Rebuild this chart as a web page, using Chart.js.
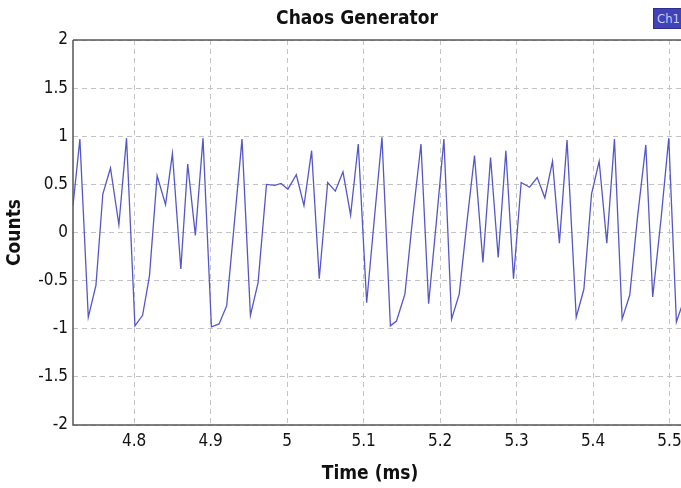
<!DOCTYPE html>
<html>
<head>
<meta charset="utf-8">
<script src="https://cdn.jsdelivr.net/npm/chart.js@4/dist/chart.umd.min.js"></script>
<style>
  html, body { margin: 0; padding: 0; background: #ffffff; overflow: hidden; }
  #wrap { position: relative; width: 681px; height: 488px; overflow: hidden; }
  #legend { position: absolute; left: 653px; top: 8px; width: 40px; height: 21px;
    background: #4141b8; border: 1px solid #2d2d8a; box-sizing: border-box;
    color: #c9cdf2; font: 13px "DejaVu Sans Condensed", sans-serif; line-height: 19px; padding-left: 3px; }
</style>
</head>
<body>
<div id="wrap">
  <canvas id="c" width="681" height="488"></canvas>
  <div id="legend">Ch1</div>
</div>
<script>
// ---- data ----
const chartTitle = "Chaos Generator";
const xAxisTitle = "Time (ms)";
const yAxisTitle = "Counts";
const seriesName = "Ch1";

const times = [
  4.720, 4.729, 4.740, 4.750, 4.759, 4.769, 4.780, 4.790, 4.801, 4.811,
  4.820, 4.830, 4.841, 4.850, 4.861, 4.870, 4.880, 4.890, 4.901, 4.911,
  4.921, 4.931, 4.941, 4.952, 4.962, 4.973, 4.984, 4.992, 5.001, 5.012,
  5.022, 5.032, 5.042, 5.053, 5.063, 5.073, 5.083, 5.093, 5.104, 5.114,
  5.124, 5.135, 5.143, 5.154, 5.164, 5.175, 5.185, 5.195, 5.205, 5.215,
  5.225, 5.235, 5.245, 5.256, 5.266, 5.276, 5.286, 5.296, 5.306, 5.317,
  5.327, 5.337, 5.347, 5.356, 5.366, 5.378, 5.388, 5.398, 5.408, 5.418,
  5.428, 5.438, 5.448, 5.458, 5.469, 5.478, 5.489, 5.499, 5.509, 5.518
];
const counts = [
  0.28, 0.97, -0.88, -0.55, 0.40, 0.67, 0.08, 0.98, -0.97, -0.86,
  -0.45, 0.59, 0.29, 0.82, -0.38, 0.71, -0.03, 0.98, -0.98, -0.95,
  -0.76, 0.10, 0.97, -0.86, -0.52, 0.50, 0.49, 0.51, 0.45, 0.60,
  0.28, 0.85, -0.48, 0.52, 0.43, 0.63, 0.18, 0.92, -0.73, 0.14,
  0.99, -0.97, -0.92, -0.64, 0.14, 0.92, -0.74, 0.10, 0.97, -0.90,
  -0.64, 0.10, 0.80, -0.31, 0.78, -0.26, 0.85, -0.48, 0.52, 0.47,
  0.57, 0.36, 0.74, -0.11, 0.96, -0.88, -0.59, 0.40, 0.74, -0.11,
  0.97, -0.90, -0.65, 0.15, 0.91, -0.67, 0.15, 0.98, -0.93, -0.72
];
const xTicks = [4.8, 4.9, 5.0, 5.1, 5.2, 5.3, 5.4, 5.5];
const yTicks = [-2, -1.5, -1, -0.5, 0, 0.5, 1, 1.5, 2];
const xRange = [4.72, 5.515];
const yRange = [-2, 2];

// ---- chart ----
const points = times.map((t, i) => ({ x: t, y: counts[i] }));
const fmt = v => String(Math.round(v * 10) / 10);

const textPlugin = {
  id: 'texts',
  afterDraw(chart) {
    const ctx = chart.ctx;
    const a = chart.chartArea;
    ctx.save();
    ctx.setLineDash([]);
    ctx.strokeStyle = '#555555';
    ctx.lineWidth = 1.5;
    ctx.beginPath();
    ctx.moveTo(a.left, a.top);
    ctx.lineTo(a.right, a.top);
    ctx.moveTo(a.left, a.top);
    ctx.lineTo(a.left, a.bottom);
    ctx.lineTo(a.right, a.bottom);
    ctx.stroke();
    ctx.fillStyle = '#111111';
    ctx.textAlign = 'center';
    ctx.textBaseline = 'middle';
    ctx.font = 'bold 19px "DejaVu Sans Condensed", sans-serif';
    ctx.fillText(chartTitle, 357, 19);
    ctx.fillText(xAxisTitle, 370, 474);
    ctx.restore();
  }
};

new Chart(document.getElementById('c'), {
  type: 'line',
  data: {
    datasets: [{
      label: seriesName,
      data: points,
      borderColor: '#5557c9',
      borderWidth: 1.3,
      pointRadius: 0,
      tension: 0,
      fill: false
    }]
  },
  options: {
    responsive: false,
    animation: false,
    layout: { padding: { top: 40, left: 0, right: 0, bottom: 0 } },
    plugins: {
      legend: { display: false },
      title: { display: false },
      tooltip: { enabled: false }
    },
    scales: {
      x: {
        type: 'linear',
        min: xRange[0],
        max: xRange[1],
        afterBuildTicks: s => { s.ticks = xTicks.map(v => ({ value: v })); },
        afterFit: s => { s.height = 63; s.paddingRight = 0; s.paddingLeft = 0; },
        ticks: {
          callback: v => fmt(v),
          color: '#111111',
          font: { family: '"DejaVu Sans Condensed", sans-serif', size: 17 },
          padding: 6,
          maxRotation: 0,
          autoSkip: false
        },
        grid: { color: '#c4c4c4', lineWidth: 1, drawTicks: false },
        border: { display: false, dash: [5, 4] }
      },
      y: {
        type: 'linear',
        min: yRange[0],
        max: yRange[1],
        afterBuildTicks: s => { s.ticks = yTicks.map(v => ({ value: v })); },
        afterFit: s => { s.width = 73; },
        ticks: {
          callback: v => fmt(v),
          color: '#111111',
          font: { family: '"DejaVu Sans Condensed", sans-serif', size: 17 },
          padding: 5,
          autoSkip: false
        },
        title: {
          display: true,
          text: yAxisTitle,
          color: '#111111',
          font: { family: '"DejaVu Sans Condensed", sans-serif', size: 19, weight: 'bold' },
          padding: { top: 4, bottom: 0 }
        },
        grid: { color: '#c4c4c4', lineWidth: 1, drawTicks: false },
        border: { display: false, dash: [5, 4] }
      }
    }
  },
  plugins: [textPlugin]
});
</script>
</body>
</html>
